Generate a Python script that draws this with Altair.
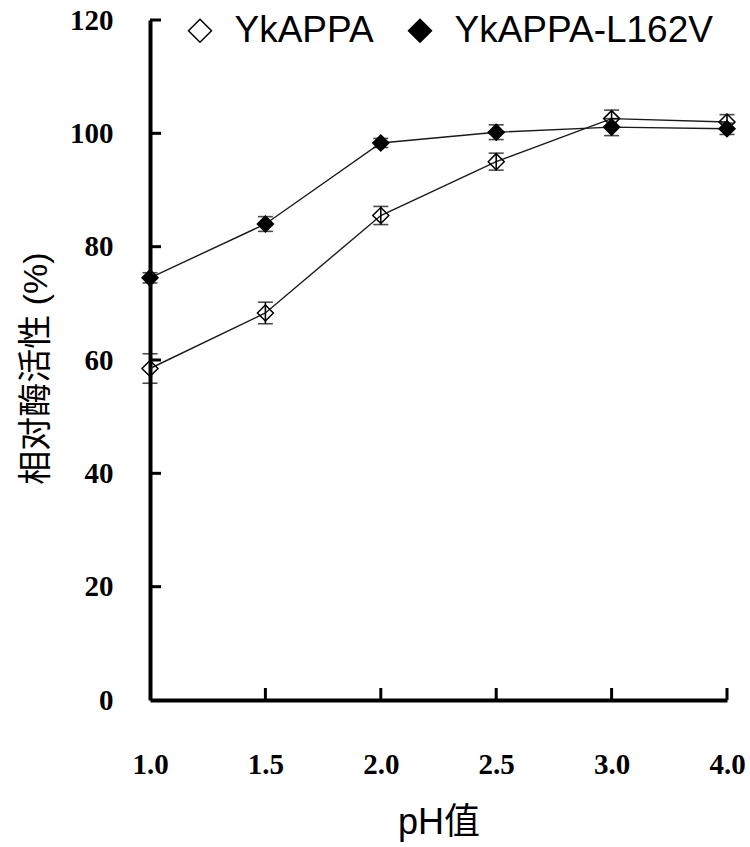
import altair as alt
import pandas as pd

ph_labels = ["1.0", "1.5", "2.0", "2.5", "3.0", "4.0"]
series_names = ["YkAPPA", "YkAPPA-L162V"]
wt_values = [58.5, 68.3, 85.5, 95.0, 102.6, 102.0]
wt_errors = [2.6, 1.9, 1.6, 1.5, 1.5, 1.3]
mut_values = [74.5, 84.0, 98.3, 100.2, 101.1, 100.8]
mut_errors = [0.9, 1.3, 0.8, 1.3, 1.5, 1.0]
y_tick_values = [0, 20, 40, 60, 80, 100, 120]

rows = []
for name, vals, errs in [(series_names[0], wt_values, wt_errors),
                         (series_names[1], mut_values, mut_errors)]:
    for ph, v, e in zip(ph_labels, vals, errs):
        rows.append({"ph": ph, "series": name, "value": v, "err": e})
df = pd.DataFrame(rows)

W, H = 577, 680
LATIN_CJK = "Liberation Sans, Noto Sans CJK SC"
TICK_FONT = "Liberation Serif"

x_scale = alt.Scale(type="point", domain=ph_labels, padding=0)
y_scale = alt.Scale(domain=[0, 120], nice=False, zero=True)

x_axis = alt.Axis(
    title="pH值", titleFont=LATIN_CJK, titleFontSize=36, titleFontWeight="normal",
    titleColor="black", titleX=W / 2, titleY=133, titleBaseline="alphabetic",
    titleAlign="center",
    labelFont=TICK_FONT, labelFontWeight="bold", labelFontSize=29, labelColor="black",
    labelAngle=0, labelPadding=64, labelBaseline="middle",
    ticks=False, tickSize=0, grid=False,
    domainColor="black", domainWidth=4,
)
y_axis = alt.Axis(
    values=y_tick_values,
    title="相对酶活性 (%)", titleFont=LATIN_CJK, titleFontSize=34, titleFontWeight="normal",
    titleColor="black", titleX=-114, titleY=H / 2 + 8, titleAngle=270,
    titleAlign="center", titleBaseline="middle",
    labelFont=TICK_FONT, labelFontWeight="bold", labelFontSize=29, labelColor="black",
    labelPadding=37, ticks=False, tickSize=0, grid=False,
    domainColor="black", domainWidth=4,
)

def xe(field="ph:N"):
    return alt.X(field, scale=x_scale, sort=ph_labels, axis=x_axis)

def ye(field="value:Q"):
    return alt.Y(field, scale=y_scale, axis=y_axis)

base = alt.Chart(df)

lines = base.mark_line(color="#1a1a1a", strokeWidth=1.4).encode(
    x=xe(), y=ye(), detail="series:N"
)

errbars = base.mark_errorbar(
    color="black", thickness=1.6, ticks={"size": 15, "thickness": 1.6, "color": "black"}
).encode(
    x=xe(), y=ye(), yError=alt.YError("err:Q"),
)

points = base.mark_point(
    shape="diamond", size=256, stroke="black", strokeWidth=1.5, opacity=1, fillOpacity=1
).encode(
    x=xe(), y=ye(),
    fill=alt.Fill(
        "series:N",
        scale=alt.Scale(domain=series_names, range=["transparent", "black"]),
        legend=alt.Legend(
            title=None, orient="none", legendX=31.5, legendY=-8, direction="horizontal",
            symbolType="diamond", symbolSize=530, symbolStrokeColor="black",
            symbolStrokeWidth=1.5, symbolOpacity=1,
            labelFont="Liberation Sans", labelFontSize=37, labelColor="black",
            labelOffset=16, columnPadding=27, padding=0, labelLimit=400,
        ),
    ),
)

ytick_df = pd.DataFrame({"v": y_tick_values[1:]})
yticks = alt.Chart(ytick_df).mark_rule(color="black", strokeWidth=3).encode(
    y=ye("v:Q"), x=alt.value(0), x2=alt.value(11)
)

xtick_df = pd.DataFrame({"ph": ph_labels[1:]})
xticks = alt.Chart(xtick_df).mark_rule(color="black", strokeWidth=3).encode(
    x=xe(), y=alt.value(H), y2=alt.value(H - 12)
)

chart = alt.layer(lines, errbars, points, yticks, xticks).properties(
    width=W, height=H,
    autosize=alt.AutoSizeParams(type="none"),
    padding={"left": 150, "top": 20, "right": 23, "bottom": 147},
    background="white",
).configure_view(stroke="transparent")

chart.save("out.html", embed_options={"renderer": "svg", "actions": False})
